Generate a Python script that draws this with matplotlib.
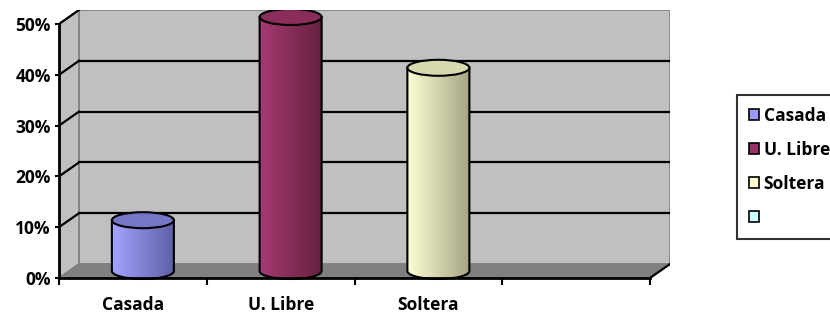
import numpy as np
import matplotlib
matplotlib.use('Agg')
import matplotlib.pyplot as plt
from matplotlib.patches import Polygon, PathPatch, Ellipse, Patch
from matplotlib.path import Path
from matplotlib.colors import LinearSegmentedColormap

# data
categories = ['Casada', 'U. Libre', 'Soltera', '']
values = [10, 50, 40, np.nan]
body_left = ['#a4a4ff', '#a53a72', '#ffffd4', '#ccffff']
body_right = ['#5e5ea6', '#66213f', '#a6a686', '#88aaaa']
top_col = ['#7676c8', '#8a2d5a', '#d9d9b0', '#aadddd']
legend_col = ['#9999ff', '#993366', '#ffffcc', '#ccffff']
yticks = [0, 10, 20, 30, 40, 50]

plt.rcParams['font.family'] = ['Open Sans', 'DejaVu Sans']
plt.rcParams['font.weight'] = 'bold'
FS = 12.5

W, H = 830, 318
fig = plt.figure(figsize=(W / 100, H / 100), dpi=100)

# pixel geometry of the front frame
px_x0, px_x1 = 59, 650
px_y0, px_y50 = 278, 24
ppx = (px_x1 - px_x0) / 4          # px per category
ppy = (px_y0 - px_y50) / 50        # px per percent
dx = 20 / ppx                      # depth offset
dy = 14 / ppy
ybot = -5 / ppy

ax = fig.add_axes([px_x0 / W, (H - (px_y0 + 5)) / H,
                   (px_x1 + 20 - px_x0) / W, ((px_y0 + 5) - (px_y50 - 14)) / H])
ax.set_xlim(0, 4 + dx)
ax.set_ylim(ybot, 50 + dy)
ax.patch.set_alpha(0)

wall = '#c0c0c0'
edge = '#808080'
# back wall
ax.add_patch(Polygon([(dx, dy), (4 + dx, dy), (4 + dx, 50 + dy), (dx, 50 + dy)],
                     closed=True, fc=wall, ec=edge, lw=1.2, zorder=1))
# side wall
ax.add_patch(Polygon([(0, 0), (dx, dy), (dx, 50 + dy), (0, 50)],
                     closed=True, fc=wall, ec=edge, lw=1.2, zorder=1))
# floor
ax.add_patch(Polygon([(0, 0), (4, 0), (4 + dx, dy), (dx, dy)],
                     closed=True, fc='#808080', ec=edge, lw=1.0, zorder=1))
# gridlines
for v in yticks[1:-1]:
    ax.plot([dx, 4 + dx], [v + dy, v + dy], color='black', lw=1.6, zorder=2)
    ax.plot([0, dx], [v, v + dy], color='black', lw=1.6, zorder=2)
ax.plot([0, dx], [50, 50 + dy], color='black', lw=1.6, zorder=2)
ax.plot([4, 4 + dx], [0, dy], color='black', lw=1.6, zorder=2)

# cylinders
cw = 62 / ppx
eh = 16 / ppy
t = np.linspace(np.pi, 2 * np.pi, 60)
for i, (v, cl, cr, ct) in enumerate(zip(values, body_left, body_right, top_col)):
    if np.isnan(v):
        continue
    xc = i + 0.5 + dx / 2
    yb = dy / 2
    yt = v + dy / 2
    xs = xc + cw / 2 * np.cos(t)
    ys = yb + eh / 2 * np.sin(t)
    verts = list(zip(xs, ys)) + [(xc + cw / 2, yt), (xc - cw / 2, yt), (xs[0], ys[0])]
    codes = [Path.MOVETO] + [Path.LINETO] * (len(verts) - 2) + [Path.CLOSEPOLY]
    body = PathPatch(Path(verts, codes), fc='none', ec='black', lw=1.5, zorder=5)
    ax.add_patch(body)
    cmap = LinearSegmentedColormap.from_list('c%d' % i, [cl, cr])
    grad = np.linspace(0, 1, 100).reshape(1, -1)
    im = ax.imshow(grad, extent=[xc - cw / 2, xc + cw / 2, yb - eh / 2, yt],
                   aspect='auto', cmap=cmap, zorder=4, interpolation='bilinear')
    im.set_clip_path(body)
    ax.add_patch(Ellipse((xc, yt), cw, eh, fc=ct, ec='black', lw=1.5, zorder=6))

ax.set_xlim(0, 4 + dx)
ax.set_ylim(ybot, 50 + dy)

# axes
for s in ['top', 'right']:
    ax.spines[s].set_visible(False)
ax.spines['left'].set_bounds(0, 50)
ax.spines['bottom'].set_bounds(0, 4)
ax.spines['bottom'].set_position(('data', 0))
ax.spines['left'].set_linewidth(2)
ax.spines['bottom'].set_linewidth(2)
ax.spines['left'].set_zorder(7)
ax.spines['bottom'].set_zorder(7)

ax.set_yticks(yticks)
ax.set_yticklabels(['%d%%' % v for v in yticks], fontsize=FS, fontweight='bold')
ax.tick_params(axis='y', length=3, width=1.5, pad=3)
ax.set_xticks([0.5, 1.5, 2.5, 3.5])
ax.set_xticklabels(categories, fontsize=FS, fontweight='bold')
ax.set_xticks([0, 1, 2, 3, 4], minor=True)
ax.tick_params(axis='x', which='major', length=0, pad=13)
ax.tick_params(axis='x', which='minor', length=5, width=1.5, direction='out')

handles = [Patch(fc=c, ec='black', lw=1.2) for c in legend_col]
leg = fig.legend(handles, categories, loc='upper left',
                 bbox_to_anchor=(737 / W, 1 - 95 / H), frameon=True, fancybox=False,
                 prop={'size': FS, 'weight': 'bold'}, handlelength=0.6, handleheight=0.6,
                 handletextpad=0.25, labelspacing=0.92, borderpad=0.68, borderaxespad=0)
leg.get_frame().set_edgecolor('black')
leg.get_frame().set_linewidth(1.5)

fig.savefig('out.png', dpi=100)
